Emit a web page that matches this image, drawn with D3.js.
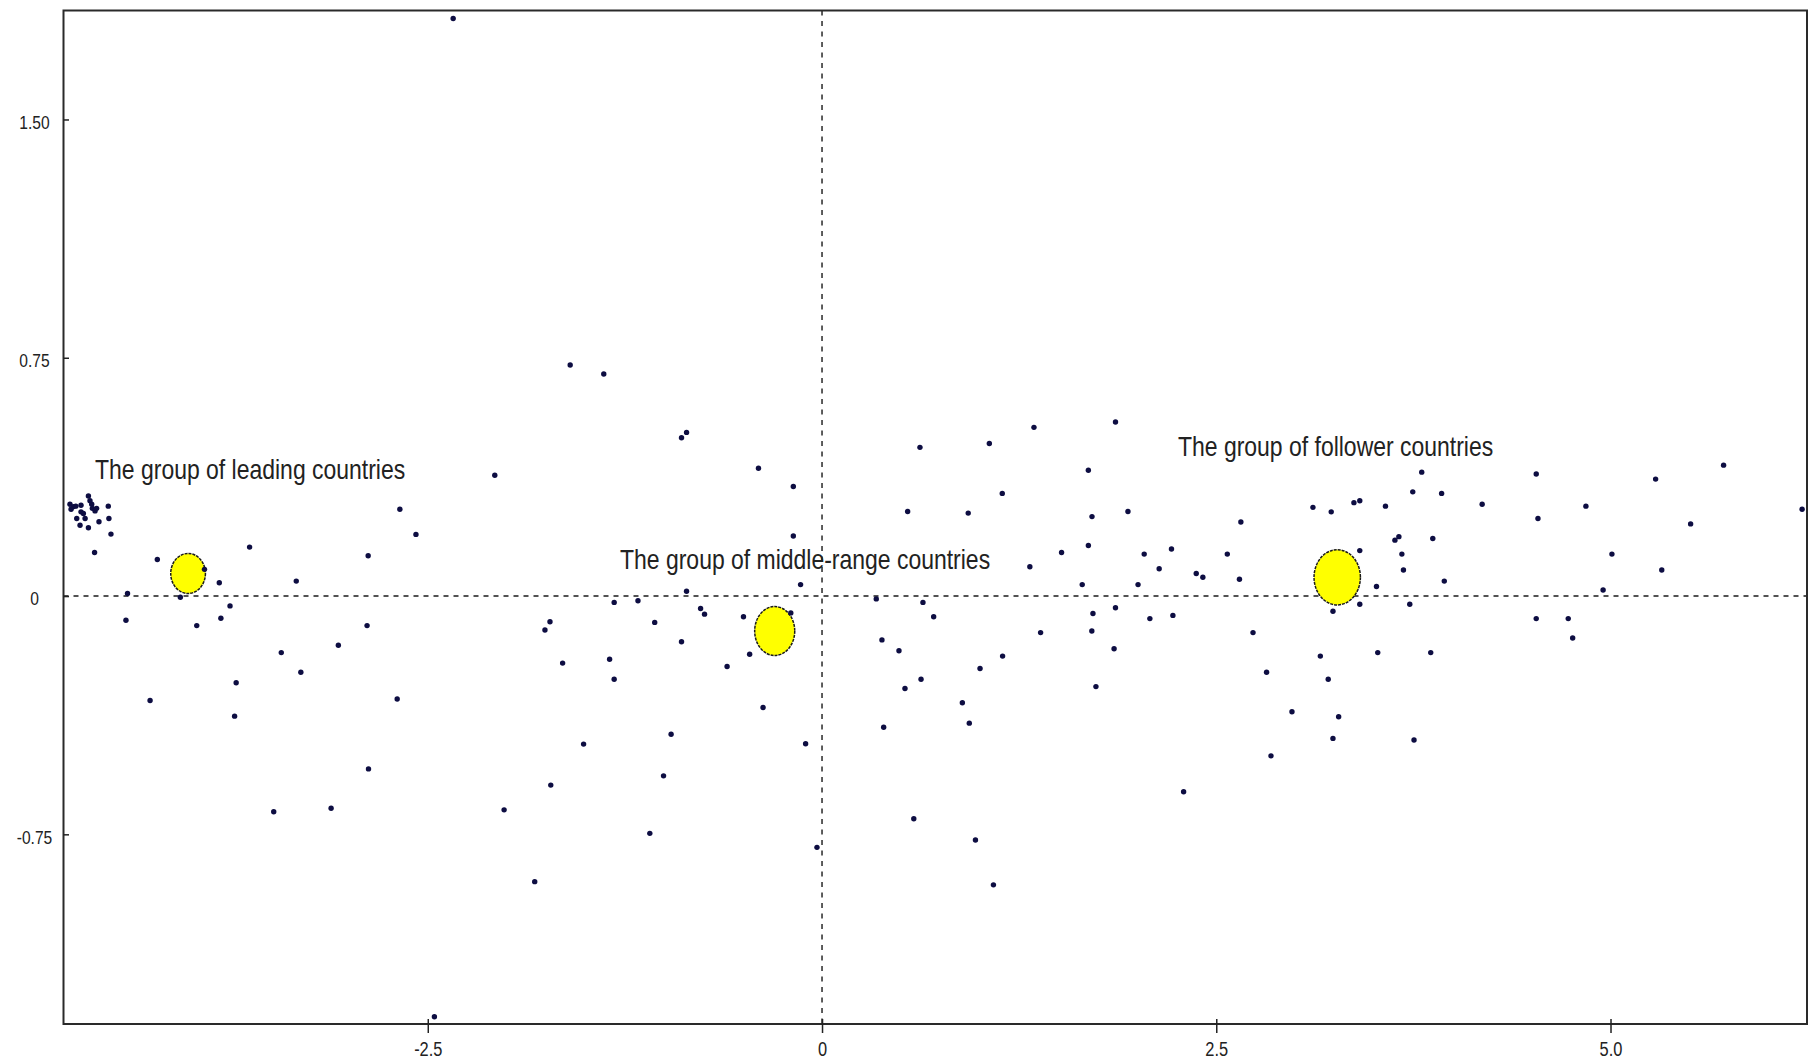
<!DOCTYPE html>
<html><head><meta charset="utf-8">
<script src="https://cdn.jsdelivr.net/npm/d3@7"></script>
<style>
html,body{margin:0;padding:0;background:#fff;}
svg{display:block;}
</style></head><body>
<svg id="chart" width="1810" height="1061"></svg>
<script>
// ---------- data ----------
const xTicks = [-2.5, 0, 2.5, 5.0];
const xTickLabels = ["-2.5", "0", "2.5", "5.0"];
const yTicks = [1.5, 0.75, 0, -0.75];
const yTickLabels = ["1.50", "0.75", "0", "-0.75"];
const xDomain = [-4.81, 6.246];
const yDomain = [-1.347, 1.843];

const leadingCluster = [
  [-4.769, 0.289], [-4.748, 0.281], [-4.762, 0.273], [-4.732, 0.283], [-4.699, 0.286],
  [-4.652, 0.315], [-4.642, 0.300], [-4.631, 0.289], [-4.627, 0.276], [-4.610, 0.268],
  [-4.600, 0.276], [-4.699, 0.265], [-4.684, 0.260], [-4.726, 0.244], [-4.673, 0.244],
  [-4.705, 0.223], [-4.652, 0.215], [-4.585, 0.234], [-4.526, 0.283], [-4.522, 0.244],
  [-4.509, 0.195]
];
const leftPoints = [
  [-4.613, 0.137], [-4.215, 0.115], [-3.630, 0.154], [-2.878, 0.127], [-3.916, 0.084],
  [-3.822, 0.042], [-3.334, 0.047], [-4.404, 0.008], [-4.069, -0.004], [-3.754, -0.031],
  [-4.414, -0.076], [-3.965, -0.093], [-3.812, -0.070], [-2.885, -0.093], [-3.067, -0.155],
  [-3.429, -0.178], [-3.305, -0.240], [-3.715, -0.273], [-4.261, -0.329], [-2.694, -0.324],
  [-3.725, -0.378], [-2.677, 0.273], [-2.575, 0.194], [-2.075, 0.380], [-2.339, 1.818],
  [-3.477, -0.679], [-3.113, -0.668], [-2.876, -0.544], [-2.016, -0.673], [-2.458, -1.324]
];
const middlePoints = [
  [-1.597, 0.727], [-1.384, 0.699], [-0.891, 0.498], [-0.859, 0.515], [-0.403, 0.402],
  [-0.182, 0.345], [-0.182, 0.189], [-0.136, 0.036], [-0.859, 0.015], [-1.318, -0.020],
  [-1.167, -0.015], [-1.061, -0.083], [-0.770, -0.039], [-0.745, -0.057], [-0.498, -0.065],
  [-0.198, -0.053], [-0.891, -0.144], [-1.347, -0.199], [-1.318, -0.262], [-0.602, -0.222],
  [-0.459, -0.183], [-0.374, -0.351], [-0.957, -0.435], [-1.512, -0.466], [-0.104, -0.465],
  [-1.725, -0.081], [-1.757, -0.107], [-1.645, -0.211], [-1.720, -0.595], [-1.822, -0.899],
  [-1.005, -0.566], [-1.092, -0.747], [-0.032, -0.791]
];
const rightPoints = [
  [0.621, 0.468], [1.061, 0.480], [1.344, 0.531], [1.861, 0.548], [1.689, 0.396],
  [1.143, 0.323], [0.543, 0.266], [0.927, 0.261], [1.712, 0.250], [1.940, 0.266],
  [1.689, 0.159], [1.519, 0.137], [1.318, 0.092], [2.043, 0.132], [2.216, 0.148],
  [2.138, 0.086], [2.373, 0.071], [2.415, 0.059], [1.650, 0.036], [2.004, 0.036],
  [0.344, -0.009], [0.640, -0.020], [0.708, -0.065], [1.718, -0.055], [1.861, -0.037],
  [2.079, -0.071], [2.225, -0.061], [1.711, -0.110], [1.386, -0.115], [0.380, -0.138],
  [0.488, -0.172], [1.852, -0.166], [1.145, -0.189], [1.002, -0.228], [0.628, -0.262],
  [0.526, -0.291], [1.737, -0.285], [0.890, -0.336], [0.934, -0.400], [0.391, -0.413],
  [0.582, -0.701], [0.973, -0.768], [1.087, -0.909], [2.293, -0.616]
];
const followerPoints = [
  [3.803, 0.390], [4.529, 0.384], [5.286, 0.368], [5.717, 0.412], [6.215, 0.273],
  [3.746, 0.328], [3.929, 0.323], [3.113, 0.279], [3.229, 0.265], [3.373, 0.294],
  [3.410, 0.300], [3.573, 0.283], [4.186, 0.289], [4.540, 0.244], [4.844, 0.283],
  [5.508, 0.227], [2.656, 0.233], [2.570, 0.132], [2.647, 0.053], [3.410, 0.143],
  [3.633, 0.176], [3.658, 0.187], [3.873, 0.181], [3.677, 0.132], [3.687, 0.082],
  [3.946, 0.047], [3.516, 0.030], [5.009, 0.132], [5.325, 0.082], [4.953, 0.019],
  [3.410, -0.026], [3.727, -0.026], [3.240, -0.048], [4.529, -0.071], [4.732, -0.071],
  [4.760, -0.132], [2.733, -0.115], [3.160, -0.189], [3.524, -0.178], [3.860, -0.178],
  [2.819, -0.240], [3.210, -0.262], [2.980, -0.364], [3.276, -0.380], [2.847, -0.503],
  [3.240, -0.448], [3.754, -0.453]
];

const groupNames = ["The group of leading countries", "The group of middle-range countries", "The group of follower countries"];
const groupX = [-4.02, -0.30, 3.267];
const groupY = [0.071, -0.110, 0.059];
const groupSpreadX = [0.110, 0.127, 0.147];
const groupSpreadY = [0.063, 0.077, 0.087];
const labelX = [-4.61, -1.281, 2.257];
const labelY = [0.368, 0.085, 0.440];

// ---------- chart ----------
const W = 1810, H = 1061;
const plot = {left: 63.5, right: 1807, top: 10.5, bottom: 1024};
const svg = d3.select("#chart");
const FONT = "'Liberation Sans Narrow','Arial Narrow','Liberation Sans',Arial,sans-serif";
const CONDENSE = 0.82;

function condense(sel) {
  sel.each(function () {
    const len = this.getComputedTextLength();
    d3.select(this).attr("textLength", len * CONDENSE).attr("lengthAdjust", "spacingAndGlyphs");
  });
}

const x = d3.scaleLinear().domain(xDomain).range([plot.left, plot.right]);
const y = d3.scaleLinear().domain(yDomain).range([plot.bottom, plot.top]);

svg.append("rect").attr("width", W).attr("height", H).attr("fill", "#fff");

// zero reference lines
svg.append("line")
  .attr("x1", x(0)).attr("x2", x(0)).attr("y1", plot.top).attr("y2", plot.bottom)
  .attr("stroke", "#1a1a1a").attr("stroke-width", 1.4).attr("stroke-dasharray", "5,5.5");
svg.append("line")
  .attr("x1", plot.left).attr("x2", plot.right).attr("y1", y(0)).attr("y2", y(0))
  .attr("stroke", "#1a1a1a").attr("stroke-width", 1.4).attr("stroke-dasharray", "5,5");

// group ellipses
const groups = groupNames.map((n, i) => ({name: n, x: groupX[i], y: groupY[i], sx: groupSpreadX[i], sy: groupSpreadY[i], lx: labelX[i], ly: labelY[i]}));
svg.append("g").selectAll("ellipse").data(groups).join("ellipse")
  .attr("cx", d => x(d.x)).attr("cy", d => y(d.y))
  .attr("rx", d => x(d.x + d.sx) - x(d.x))
  .attr("ry", d => y(d.y - d.sy) - y(d.y))
  .attr("fill", "#ffff00").attr("stroke", "#1a1a1a").attr("stroke-width", 1.5)
  .attr("stroke-dasharray", "3,1");

// points
const allPoints = [].concat(leadingCluster, leftPoints, middlePoints, rightPoints, followerPoints);
svg.append("g").selectAll("circle").data(allPoints).join("circle")
  .attr("cx", d => x(d[0])).attr("cy", d => y(d[1]))
  .attr("r", 2.7).attr("fill", "#0d0d42");

// annotation labels
svg.append("g").selectAll("text").data(groups).join("text")
  .attr("x", d => x(d.lx)).attr("y", d => y(d.ly))
  .attr("font-family", FONT).attr("font-size", 28).attr("fill", "#222")
  .text(d => d.name)
  .call(condense);

// frame
svg.append("rect")
  .attr("x", plot.left).attr("y", plot.top)
  .attr("width", plot.right - plot.left).attr("height", plot.bottom - plot.top)
  .attr("fill", "none").attr("stroke", "#2a2a2a").attr("stroke-width", 2);

// x axis
const xAxis = svg.append("g").attr("transform", `translate(0,${plot.bottom})`)
  .call(d3.axisBottom(x).tickValues(xTicks).tickFormat((d, i) => xTickLabels[i]).tickSize(9).tickPadding(9));
xAxis.select(".domain").remove();
xAxis.selectAll(".tick line").attr("y1", -5).attr("stroke", "#222").attr("stroke-width", 1.5);
xAxis.selectAll(".tick text").attr("font-family", FONT).attr("font-size", 20).attr("fill", "#222")
  .call(condense);

// y axis
const yAxis = svg.append("g").attr("transform", `translate(${plot.left},0)`)
  .call(d3.axisLeft(y).tickValues(yTicks).tickFormat((d, i) => yTickLabels[i]).tickSize(5.5));
yAxis.select(".domain").remove();
yAxis.selectAll(".tick line").attr("x2", 5.5).attr("stroke", "#222").attr("stroke-width", 1.5);
yAxis.selectAll(".tick text").attr("font-family", FONT).attr("font-size", 19).attr("fill", "#222")
  .attr("text-anchor", "middle").attr("x", -29).attr("dy", "0.47em")
  .call(condense);
</script>
</body></html>
